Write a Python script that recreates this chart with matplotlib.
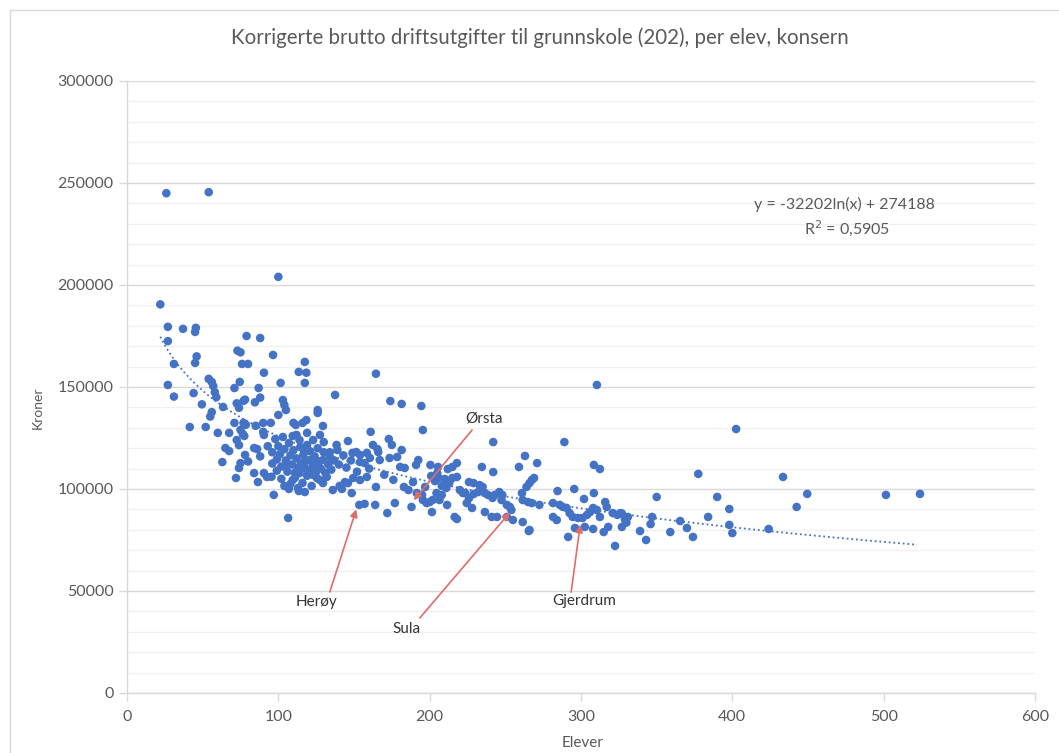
import numpy as np
import matplotlib
matplotlib.use("Agg")
import matplotlib.pyplot as plt
from matplotlib.lines import Line2D
from matplotlib.ticker import MultipleLocator

# elever (x) og kroner per elev (y), lest av fra figuren
elever = [
    26, 54, 100, 22, 27, 37, 45.5, 45, 27, 31, 46, 45, 79, 88, 73, 75, 76, 80, 96.5, 90.5,
    27, 31, 44, 54, 56, 57, 58, 59, 49.5, 63.5, 56, 55, 71, 74.5, 72.5, 74, 77, 78, 87, 84.5,
    88, 101.5, 103, 104, 105, 100, 113.5, 117.5, 118.5, 117.5, 41.5, 52, 60, 67.5, 71, 77, 78.5, 75, 76.5, 77.5,
    72.5, 74, 85, 90, 95, 90, 90.5, 65, 67.5, 63, 78, 75, 74, 72, 84, 86, 84, 86.5, 90.5, 92.5,
    97, 106.5, 107, 113.5, 117.5, 126, 126, 118.5, 111.5, 110, 116, 109.5, 137.5, 129.5, 161, 174, 181.5, 194.5, 195.5, 310.5,
    242, 289, 402.5, 377.5, 433.5, 350, 390, 449.5, 501.5, 524, 442.5, 398, 347, 346, 365.5, 370, 339, 359, 343, 374,
    384, 398, 400, 424, 327, 329, 331, 330, 327, 284.5, 295.5, 308.5, 302, 308.5, 312.5, 281.5, 286, 288, 290.5, 292.5,
    294.5, 298, 301, 304, 306, 308, 310.5, 312.5, 316, 317, 281.5, 284, 296, 302.5, 308, 291.5, 315, 321, 324, 326,
    322.5, 265.5, 318, 263, 259, 271, 234.5, 242, 267.5, 269, 266, 264, 226, 229, 233, 235, 232, 236.5, 238.5, 241.5,
    243, 246, 248, 247.5, 251, 253, 254, 261, 261.5, 265, 267.5, 272.5, 236.5, 241, 244.5, 251, 255, 261.5, 266, 223.5,
    224.5, 228, 218, 215, 138.5, 146, 139, 149, 151.5, 154, 158.5, 160.5, 166, 167, 173, 175, 181.5, 178.5, 173.5, 180.5,
    183.5, 192.5, 191, 200.5, 205, 206, 205.5, 212, 215, 218, 220, 222, 189, 191.5, 195, 195.5, 198, 200, 202, 204.5,
    208, 206.5, 188, 172, 164.5, 153.5, 157, 164, 148.5, 140.5, 136, 158.5, 154, 149.5, 146, 144, 157, 154, 162.5, 165.5,
    129.5, 134, 125.5, 121, 116.5, 114.5, 119, 123, 127.5, 121, 123, 125.5, 127.5, 129.5, 132, 109.5, 114, 216.5, 218, 211.5,
    201.5, 177, 203.5, 208, 210, 201, 93, 96, 98, 99, 100, 101, 102, 103, 104, 105, 106, 107, 108, 109,
    110, 111, 112, 113, 114, 115, 116, 117, 118, 119, 120, 121, 122, 123, 124, 125, 126, 127, 128, 130,
    131, 133, 135, 137, 99, 102, 104, 96, 108, 112, 119, 95.5, 113, 130, 140, 143, 145, 148, 80, 88,
    164.5, 170, 176, 183, 186, 211, 226, 229, 105, 111, 117, 124, 134, 142, 152, 160, 197, 213,
]
kroner = [
    245000, 245500, 204000, 190500, 179500, 178500, 179000, 177000, 172500, 161300, 165000, 161800, 175000, 174000, 167800, 167000, 161300, 161300, 165700, 157000,
    151000, 145300, 147000, 154000, 152500, 150500, 147500, 145000, 141500, 140200, 137700, 135500, 149500, 152500, 142000, 139800, 143200, 143800, 149500, 142500,
    144800, 152000, 143600, 141200, 138700, 136300, 157400, 162300, 157000, 152000, 130400, 130400, 127500, 127500, 132400, 132400, 131500, 129000, 127000, 126000,
    124000, 121500, 131000, 132400, 132400, 128000, 126500, 120100, 118600, 113200, 116700, 112700, 110300, 105400, 120100, 119600, 107800, 103400, 107800, 105900,
    97100, 85800, 100000, 99000, 98500, 138700, 137300, 133800, 131400, 132400, 132400, 126000, 146100, 130900, 128000, 143100, 141700, 140700, 128900, 151000,
    123000, 123000, 129400, 107400, 105900, 96100, 96100, 97600, 97100, 97600, 91200, 90200, 86300, 82800, 84300, 80900, 79400, 78900, 75000, 76500,
    86300, 82400, 78400, 80400, 88000, 85000, 86300, 83500, 81400, 99000, 100000, 98000, 95100, 111800, 109800, 93100, 92200, 91200, 90700, 88200,
    86300, 85800, 85800, 87300, 88700, 90700, 89700, 86300, 93600, 91200, 86300, 84800, 80900, 81400, 80400, 76500, 78900, 88200, 87300, 88200,
    72100, 79400, 81400, 116200, 110800, 112700, 110800, 108300, 104400, 105400, 102900, 101000, 103400, 102900, 101900, 101000, 98500, 98000, 97100, 95600,
    97100, 98500, 97100, 94600, 92200, 91200, 89700, 98000, 94600, 93600, 93100, 92200, 88700, 86300, 86300, 86300, 84800, 83800, 79900, 98000,
    93100, 90700, 112700, 110800, 121600, 123500, 119100, 117700, 118100, 116700, 117700, 115200, 118100, 114200, 124500, 121600, 119100, 115700, 115200, 110800,
    110300, 114200, 111800, 111800, 107800, 105400, 110800, 109800, 105400, 105900, 99500, 98000, 103400, 98000, 97100, 94600, 93100, 93600, 94600, 98000,
    97100, 94600, 91200, 88200, 101000, 92200, 92700, 92200, 98000, 101500, 99500, 105900, 104400, 105400, 102900, 103400, 112700, 113200, 121600, 119600,
    114200, 115700, 112700, 114200, 116700, 120600, 121600, 124000, 126500, 109300, 106900, 105400, 104400, 102900, 105900, 104400, 107800, 86300, 85300, 92200,
    88700, 93100, 103900, 101500, 104900, 106400, 121000, 118000, 124500, 114500, 121000, 117000, 111000, 125500, 119500, 114000, 108500, 122500, 116500, 112000,
    119000, 105500, 115000, 110500, 124000, 112500, 103000, 118500, 110000, 106500, 114000, 118500, 101500, 111500, 116000, 108500, 120000, 113500, 110000, 118000,
    108000, 112000, 109500, 114000, 109000, 105000, 101500, 112500, 102500, 126500, 127500, 106000, 100500, 123000, 112000, 116500, 110500, 114000, 113500, 116000,
    156500, 107000, 104500, 101000, 99500, 100500, 95500, 97500, 111500, 108000, 113000, 109000, 118000, 100000, 108500, 110000, 101000, 103000,
]

# trendlinje fra figuren: y = -32202ln(x) + 274188
trend_a = -32202
trend_b = 274188
trend_x0, trend_x1 = 22, 522

# merkede kommuner: (navn, tekstpos, pilstart, pilspiss)
labels = ["Herøy", "Sula", "Gjerdrum", "Ørsta"]
label_pos = [(125, 44500), (185, 31400), (302, 45000), (236, 134500)]
arrow_tail = [(134, 49500), (193.5, 36800), (293.5, 49500), (228, 128900)]
arrow_tip = [(151.5, 90000), (253, 88500), (299.5, 82500), (189.5, 94500)]

blue = "#4472C4"
grey_txt = "#595959"
grid_major = "#D9D9D9"
grid_minor = "#F0F0F0"
red = "#E06B6B"

plt.rcParams['font.family'] = ['Lato', 'DejaVu Sans']

fig = plt.figure(figsize=(10.59, 7.53), dpi=100)
ax = fig.add_axes([127 / 1059, 1 - 693 / 753, (1035 - 127) / 1059, (693 - 81) / 753])

ax.set_xlim(0, 600)
ax.set_ylim(0, 300000)
ax.xaxis.set_major_locator(MultipleLocator(100))
ax.yaxis.set_major_locator(MultipleLocator(50000))
ax.yaxis.set_minor_locator(MultipleLocator(10000))

ax.grid(which='minor', axis='y', color=grid_minor, lw=1)
ax.grid(which='major', axis='y', color=grid_major, lw=1)
ax.set_axisbelow(True)

for s in ['top', 'right']:
    ax.spines[s].set_visible(False)
for s in ['left', 'bottom']:
    ax.spines[s].set_color(grid_major)
    ax.spines[s].set_linewidth(1)

ax.tick_params(axis='both', which='major', colors=grid_major, labelcolor=grey_txt,
               labelsize=11.5, length=6, width=1)
ax.tick_params(axis='y', which='minor', length=0)
ax.tick_params(axis='x', pad=6)

ax.scatter(elever, kroner, s=38, color=blue, edgecolors='none', zorder=3)

tx = np.linspace(trend_x0, trend_x1, 300)
ax.plot(tx, trend_a * np.log(tx) + trend_b, color=blue, lw=1.3,
        linestyle=(0, (1, 1.6)), zorder=2)

ax.text(474, 239300, "y = -32202ln(x) + 274188", ha='center', va='center',
        fontsize=11.5, color=grey_txt)
ax.text(476, 228000, "R$^2$ = 0,5905", ha='center', va='center',
        fontsize=11.5, color=grey_txt)

for name, pos, tail, tip in zip(labels, label_pos, arrow_tail, arrow_tip):
    ax.annotate('', xy=tip, xytext=tail,
                arrowprops=dict(arrowstyle='-|>', color=red, lw=1.2,
                                mutation_scale=11, shrinkA=0, shrinkB=0),
                zorder=4)
    ax.text(pos[0], pos[1], name, ha='center', va='center', fontsize=11,
            color='#333333', zorder=5)

fig.text(540 / 1059, 1 - 38 / 753, "Korrigerte brutto driftsutgifter til grunnskole (202), per elev, konsern",
         ha='center', va='center', fontsize=14.8, color=grey_txt)
fig.text(38 / 1059, 1 - 408 / 753, "Kroner", rotation=90, ha='center', va='center',
         fontsize=10, color=grey_txt)
fig.text(583 / 1059, 1 - 743 / 753, "Elever", ha='center', va='center',
         fontsize=11, color=grey_txt)

# ramme rundt diagramområdet
fig.add_artist(Line2D([10 / 1059, 10 / 1059], [0, 1 - 10 / 753], color=grid_major, lw=1))
fig.add_artist(Line2D([10 / 1059, 1], [1 - 10 / 753, 1 - 10 / 753], color=grid_major, lw=1))

fig.savefig("out.png", dpi=100)
